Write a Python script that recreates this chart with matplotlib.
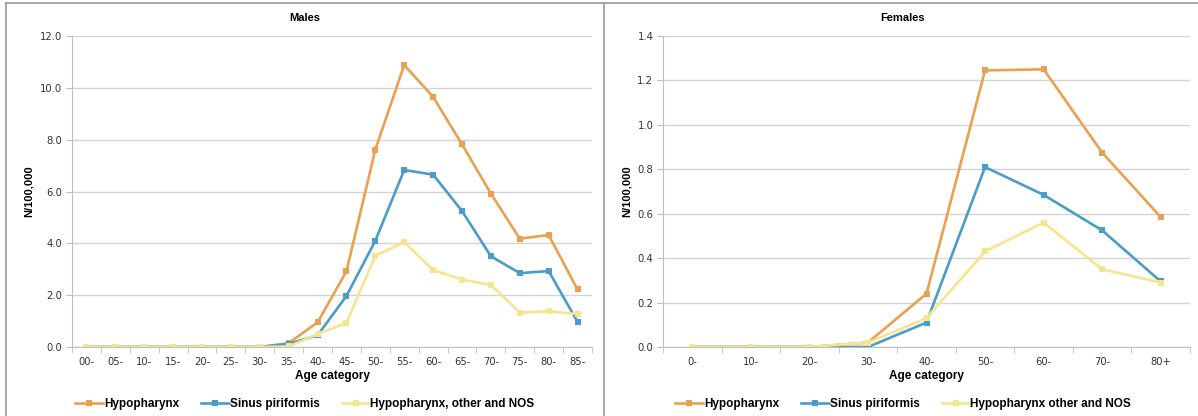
import matplotlib
matplotlib.use("Agg")
import matplotlib.pyplot as plt
from matplotlib.lines import Line2D
import numpy as np

# ---- data ----
male_ages = ["00-", "05-", "10-", "15-", "20-", "25-", "30-", "35-", "40-", "45-",
             "50-", "55-", "60-", "65-", "70-", "75-", "80-", "85-"]
male_hypo = [0, 0, 0, 0, 0, 0, 0, 0.15, 0.95, 2.92, 7.62, 10.88, 9.65, 7.82, 5.92, 4.18, 4.32, 2.22]
male_sinus = [0, 0, 0, 0, 0, 0, 0, 0.12, 0.45, 1.97, 4.10, 6.83, 6.65, 5.25, 3.50, 2.85, 2.93, 0.97]
male_other = [0, 0, 0, 0, 0, 0, 0, 0.02, 0.50, 0.93, 3.52, 4.05, 2.97, 2.60, 2.40, 1.33, 1.38, 1.27]

female_ages = ["0-", "10-", "20-", "30-", "40-", "50-", "60-", "70-", "80+"]
female_hypo = [0, 0, 0, 0.02, 0.24, 1.245, 1.25, 0.875, 0.585]
female_sinus = [0, 0, 0, 0.0, 0.11, 0.81, 0.685, 0.525, 0.295]
female_other = [0, 0, 0, 0.02, 0.13, 0.43, 0.56, 0.35, 0.29]

male_labels = ["Hypopharynx", "Sinus piriformis", "Hypopharynx, other and NOS"]
female_labels = ["Hypopharynx", "Sinus piriformis", "Hypopharynx other and NOS"]

colors = ["#E9A050", "#4A9CC9", "#F7E58E"]

W, H = 1198, 416
fig = plt.figure(figsize=(W / 100, H / 100), dpi=100)
fig.patch.set_facecolor("white")

def fx(px):
    return px / W

def fy(py):
    return 1 - py / H

tick_font = {"family": "DejaVu Sans", "size": 7.2}
bold_font = "Liberation Sans"

def make_panel(ax_rect, cats, series, labels, ymax, ystep, fmt, title, title_x, ylabel_x, leg_x):
    ax = fig.add_axes(ax_rect)
    x = np.arange(len(cats))
    for vals, c, lab in zip(series, colors, labels):
        ax.plot(x, vals, color=c, lw=1.9, marker="s", markersize=3.8,
                markeredgewidth=0, label=lab, solid_joinstyle="miter")
    ax.set_xlim(-0.5, len(cats) - 0.5)
    ax.set_ylim(0, ymax)
    yt = np.arange(0, ymax + ystep / 2, ystep)
    ax.set_yticks(yt)
    ax.set_yticklabels([fmt.format(v) for v in yt], **tick_font)
    ax.set_xticks(x)
    ax.set_xticklabels(cats, **tick_font)
    ax.set_xticks(np.arange(-0.5, len(cats)), minor=True)
    ax.tick_params(axis="x", which="major", length=0, pad=7, colors="#333333")
    ax.tick_params(axis="x", which="minor", length=4, color="#BFBFBF", direction="out")
    ax.tick_params(axis="y", length=4, color="#BFBFBF", pad=3, colors="#333333")
    ax.tick_params(axis="y", which="both", color="#BFBFBF")
    ax.grid(axis="y", color="#D4D4D4", lw=1.0)
    ax.set_axisbelow(True)
    for s in ["top", "right"]:
        ax.spines[s].set_visible(False)
    ax.spines["left"].set_color("#BFBFBF")
    ax.spines["bottom"].set_color("#BFBFBF")
    fig.text(title_x, fy(18), title, ha="center", va="center",
             fontsize=8, fontweight="bold", family=bold_font)
    fig.text(ylabel_x, (ax_rect[1] + ax_rect[1] + ax_rect[3]) / 2, "N/100,000",
             rotation=90, ha="center", va="center", fontsize=8,
             fontweight="bold", family=bold_font)
    fig.text(ax_rect[0] + ax_rect[2] / 2, fy(376), "Age category", ha="center",
             va="center", fontsize=8.5, fontweight="bold", family=bold_font)
    fig.legend(*ax.get_legend_handles_labels(), loc="center left",
               bbox_to_anchor=(leg_x, fy(404)), ncol=3, frameon=False,
               prop={"family": bold_font, "weight": "bold", "size": 8.5},
               handlelength=2.4, handletextpad=0.05, columnspacing=1.85,
               borderaxespad=0, borderpad=0)
    return ax

bottom = fy(347)
height = fy(36) - bottom

make_panel([fx(72), bottom, fx(592) - fx(72), height], male_ages,
           [male_hypo, male_sinus, male_other], male_labels, 12.0, 2.0, "{:.1f}",
           "Males", fx(305), fx(29), fx(75))
make_panel([fx(663), bottom, fx(1190) - fx(663), height], female_ages,
           [female_hypo, female_sinus, female_other], female_labels, 1.4, 0.2, "{:.1f}",
           "Females", fx(903), fx(627), fx(675))

# panel borders
border_kw = dict(color="#9A9A9A", lw=1.2, transform=fig.transFigure)
fig.add_artist(Line2D([fx(6), fx(1198)], [fy(3), fy(3)], **border_kw))
fig.add_artist(Line2D([fx(6), fx(6)], [fy(3), 0], **border_kw))
fig.add_artist(Line2D([fx(603.5), fx(603.5)], [fy(3), 0], **border_kw))

fig.savefig("out.png", dpi=100, facecolor="white")
